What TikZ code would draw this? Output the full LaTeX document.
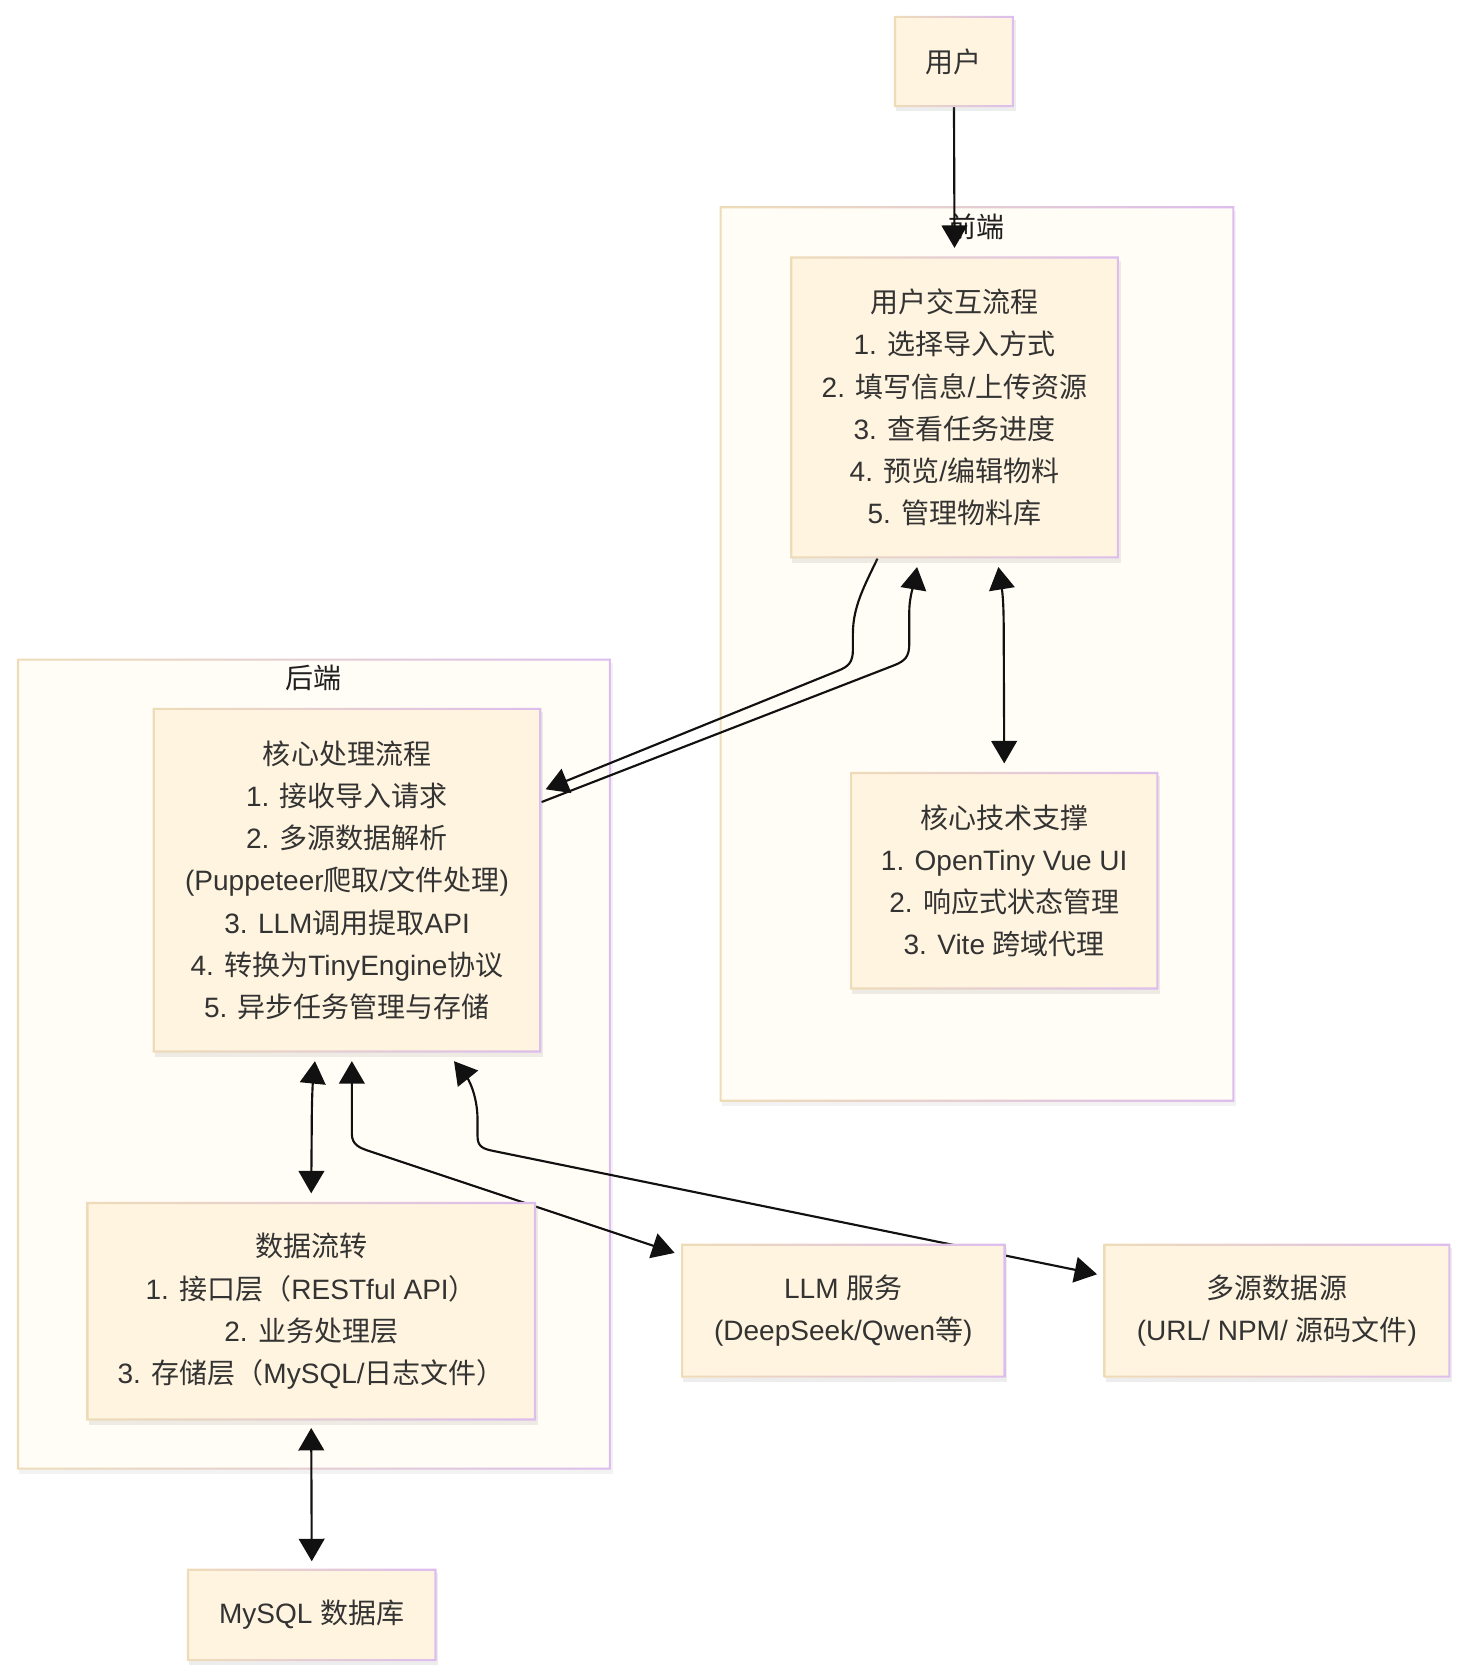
\documentclass[tikz,border=0pt]{standalone}
\usepackage{fontspec}
\setmainfont{Liberation Sans}
\newfontfamily\cjkfont{Noto Sans CJK SC}
\newfontfamily\latinfont{Liberation Sans}
% switch to the CJK font for Han characters
\XeTeXinterchartokenstate=1
\newXeTeXintercharclass\cjkclass
\count255="4E00
\loop
  \XeTeXcharclass\count255=\cjkclass
  \ifnum\count255<"9FFF \advance\count255 by 1
\repeat
\XeTeXcharclass"FF08=\cjkclass
\XeTeXcharclass"FF09=\cjkclass
\XeTeXinterchartoks 0 \cjkclass={\cjkfont}
\XeTeXinterchartoks 4095 \cjkclass={\cjkfont}
\XeTeXinterchartoks \cjkclass 0={\latinfont}
\XeTeXinterchartoks \cjkclass 4095={\latinfont}
\usetikzlibrary{arrows.meta,shadows}
\definecolor{nodefill}{HTML}{FFF4DF}
\definecolor{clusterfill}{HTML}{FFFDF5}
\definecolor{edgetan}{HTML}{EEDCB8}
\definecolor{edgelav}{HTML}{DDBDEE}
\definecolor{textgray}{HTML}{333333}
\definecolor{linkcol}{HTML}{111111}
\pgfdeclarelayer{clusterlayer}
\pgfdeclarelayer{edgelayer}
\pgfsetlayers{clusterlayer,edgelayer,main}
\begin{document}
\begin{tikzpicture}[x=1pt,y=-1pt,
	box/.style={fill=nodefill,text=textgray,align=center,inner sep=0pt,
		drop shadow={opacity=.14,shadow xshift=2pt,shadow yshift=-4pt}},
	group/.style={fill=clusterfill,inner sep=0pt,
		drop shadow={opacity=.10,shadow xshift=2pt,shadow yshift=-4pt}},
	grouptitle/.style={text=black!88,inner sep=0pt},
	link/.style={draw=linkcol,line width=2pt},
	>={Triangle[length=21pt,width=24pt]},
	font=\fontsize{26.2pt}{39.4pt}\selectfont]
	\useasboundingbox (0,0) rectangle (1366,1561.5);
	\begin{pgfonlayer}{clusterlayer}
		\node[group,minimum width=481pt,minimum height=837pt] (front) at (913.5,611.5) {};
		\node[group,minimum width=555pt,minimum height=758pt] (back) at (293.5,995) {};
		\foreach \g in {front,back}
		\shade[left color=edgetan,right color=edgelav,even odd rule]
		(\g.south west) rectangle (\g.north east)
		([shift={(2pt,2pt)}]\g.south west) rectangle ([shift={(-2pt,-2pt)}]\g.north east);
		\node[grouptitle] (fronttitle) at (913.5,212) {前端};
		\node[grouptitle] (backtitle) at (293.5,634) {后端};
	\end{pgfonlayer}
	
	\node[box,minimum width=112pt,minimum height=85pt] (user) at (892,57.5) {用户};
	\node[box,minimum width=307pt,minimum height=282pt] (userflow) at (892.5,381)
	{用户交互流程\\1. 选择导入方式\\2. 填写信息/上传资源\\3. 查看任务进度\\4. 预览/编辑物料\\5. 管理物料库};
	\node[box,minimum width=288pt,minimum height=203pt] (techstack) at (939,823.5)
	{核心技术支撑\\1. OpenTiny Vue UI\\2. 响应式状态管理\\3. Vite 跨域代理};
	\node[box,minimum width=363pt,minimum height=322pt] (coreflow) at (324.5,823)
	{核心处理流程\\1. 接收导入请求\\2. 多源数据解析\\(Puppeteer爬取/文件处理)\\3. LLM调用提取API\\4. 转换为TinyEngine协议\\5. 异步任务管理与存储};
	\node[box,minimum width=420pt,minimum height=204pt] (dataflow) at (291,1226)
	{数据流转\\1. 接口层（RESTful API）\\2. 业务处理层\\3. 存储层（MySQL/日志文件）};
	\node[box,minimum width=303pt,minimum height=125pt] (llm) at (788.5,1225.5)
	{LLM 服务\\(DeepSeek/Qwen等)};
	\node[box,minimum width=324pt,minimum height=125pt] (sources) at (1194,1225.5)
	{多源数据源\\(URL/ NPM/ 源码文件)};
	\node[box,minimum width=233pt,minimum height=86pt] (mysql) at (291.5,1510) {MySQL 数据库};
	\foreach \n in {user,userflow,techstack,coreflow,dataflow,llm,sources,mysql}
	\shade[left color=edgetan,right color=edgelav,even odd rule]
	(\n.south west) rectangle (\n.north east)
	([shift={(2pt,2pt)}]\n.south west) rectangle ([shift={(-2pt,-2pt)}]\n.north east);
	
	\begin{pgfonlayer}{edgelayer}
		\draw[link,->] (user.south) -- ([yshift=8pt]userflow.north);
		\draw[link,->] ([xshift=-72pt]userflow.south)
		.. controls +(-12,25) and +(0,-25) .. ++(-23,70) -- ++(0,15)
		.. controls +(0,12) and +(10,-4) .. ++(-14,20)
		-- ([xshift=4pt,yshift=85pt]coreflow.east);
		\draw[link,->] ([yshift=73pt]coreflow.east) -- ++(330,-128)
		.. controls +(10,-4) and +(0,12) .. ++(14,-20) -- ++(0,-30)
		.. controls +(0,-15) and +(-2,12) .. ([xshift=-35pt,yshift=-8pt]userflow.south);
		\draw[link,<->] ([xshift=41pt,yshift=-8pt]userflow.south)
		.. controls +(4,25) and +(0,-25) .. ++(5,60) -- ([yshift=8pt]techstack.north);
		\draw[link,<->] ([xshift=-30pt,yshift=-8pt]coreflow.south)
		.. controls +(-2,20) and +(0,-25) .. ++(-3,60) -- ([yshift=8pt]dataflow.north);
		\draw[link,<->] ([xshift=4.5pt,yshift=-8pt]coreflow.south) -- ++(0,68)
		.. controls +(0,10) and +(-9,-3) .. ++(16,16)
		-- ([xshift=-6pt,yshift=54pt]llm.west);
		\draw[link,<->] ([xshift=100pt,yshift=-8pt]coreflow.south)
		.. controls +(12,15) and +(0,-25) .. ++(22,55) -- ++(0,15)
		.. controls +(0,10) and +(-10,-2) .. ++(15,14)
		-- ([xshift=-6pt,yshift=34pt]sources.west);
		\draw[link,<->] ([yshift=-7pt]dataflow.south) -- ([yshift=7pt]mysql.north);
	\end{pgfonlayer}
\end{tikzpicture}
\end{document}
